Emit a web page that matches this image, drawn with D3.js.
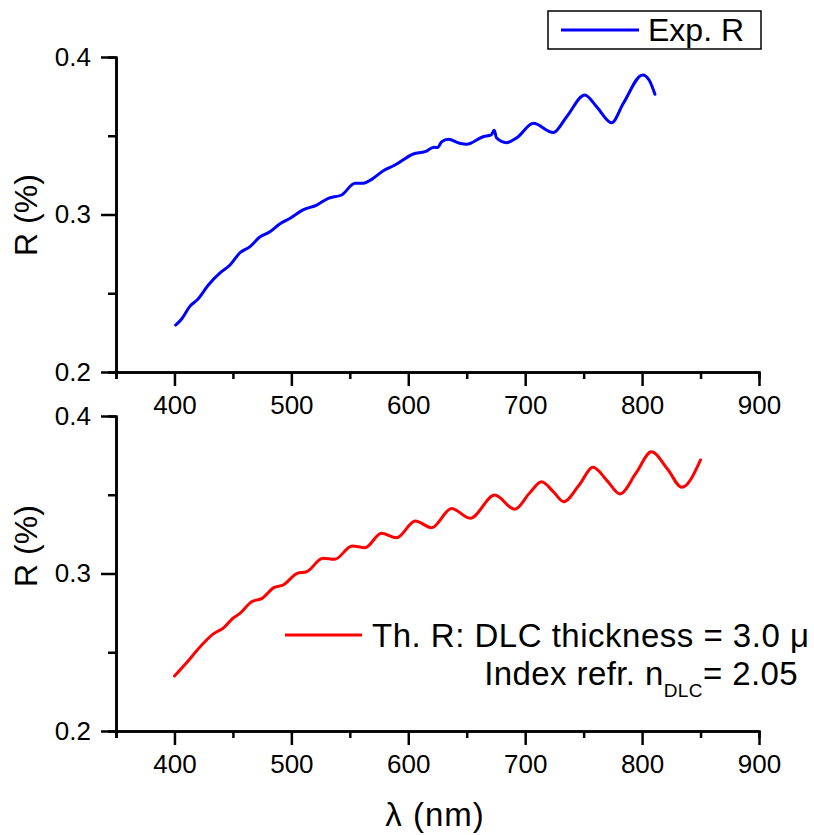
<!DOCTYPE html>
<html lang="en">
<head>
  <meta charset="UTF-8">
  <title>Exp. R vs Th. R</title>
  <script src="https://d3js.org/d3.v7.min.js"></script>
  <style>
    body {
      margin: 0;
      background: #fff;
    }
    svg {
      display: block;
      font-family: "Liberation Sans", Arial, sans-serif;
    }
  </style>
</head>
<body>

<script>
  // measured reflectance (top panel)
  const expLambda = [401, 406, 413, 420, 429, 439, 447.5, 456, 464.6, 473, 481.7, 490, 499, 510,
    521.7, 531.6, 543, 554.4, 561.6, 568.7, 578.7, 588.7, 604.3, 614.3, 622, 625, 628.6, 634.3,
    644, 650, 664, 671, 673.5, 675.5, 684, 693, 707, 724, 735.5, 751, 761, 774, 784, 800.5, 806, 811];
  const expR = [0.2298, 0.2335, 0.2415, 0.2462, 0.2552, 0.2629, 0.2679, 0.2757, 0.2796, 0.2857,
    0.2891, 0.2940, 0.2976, 0.3029, 0.3060, 0.3103, 0.3124, 0.3198, 0.3198, 0.3223, 0.3278,
    0.3314, 0.3384, 0.3399, 0.3427, 0.3425, 0.3462, 0.3477, 0.3452, 0.3446, 0.3494, 0.3505,
    0.3535, 0.3486, 0.3456, 0.3488, 0.3579, 0.3520, 0.3621, 0.3759, 0.3685, 0.3583, 0.3706,
    0.3886, 0.3854, 0.3763];

  // theoretical reflectance (bottom panel)
  const thLambda = [400, 410, 422, 433, 442, 450, 456, 466, 475, 485, 493, 505, 513, 527, 537,
    552, 563, 577, 590, 606, 620, 637, 653, 674, 691, 704, 714, 724, 733, 746, 758, 770, 781,
    795, 808, 822, 834, 850];
  const thR = [0.2349, 0.2430, 0.2535, 0.2615, 0.2655, 0.2716, 0.2747, 0.2821, 0.2842, 0.2910,
    0.2927, 0.3001, 0.3011, 0.3097, 0.3090, 0.3175, 0.3164, 0.3255, 0.3227, 0.3333, 0.3291,
    0.3413, 0.3351, 0.3498, 0.3408, 0.3513, 0.3582, 0.3520, 0.3456, 0.3560, 0.3674, 0.3590,
    0.3505, 0.3640, 0.3773, 0.3660, 0.3547, 0.3721];

  const xTicks = [400, 500, 600, 700, 800, 900];
  const xMinor = [350, 450, 550, 650, 750, 850];
  const yTicks = [0.2, 0.3, 0.4];
  const yMinor = [0.25, 0.35];

  const svg = d3.select("body").append("svg")
    .attr("width", 814)
    .attr("height", 835);

  const x = d3.scaleLinear().domain([350, 900]).range([116, 759]);
  const yTop = d3.scaleLinear().domain([0.2, 0.4]).range([372, 57]);
  const yBot = d3.scaleLinear().domain([0.2, 0.4]).range([731, 416]);

  // one panel: axes + curve
  function drawPanel(y, xs, ys, color) {
    const g = svg.append("g");

    // minor ticks first, labels off
    g.append("g")
      .attr("transform", "translate(0," + y(0.2) + ")")
      .call(d3.axisBottom(x).tickValues(xMinor).tickSize(7).tickFormat(""));
    g.append("g")
      .attr("transform", "translate(" + x(350) + ",0)")
      .call(d3.axisLeft(y).tickValues(yMinor).tickSize(8).tickFormat(""));

    g.append("g")
      .attr("transform", "translate(0," + y(0.2) + ")")
      .call(d3.axisBottom(x).tickValues(xTicks).tickSize(14).tickSizeOuter(0).tickPadding(10));
    g.append("g")
      .attr("transform", "translate(" + x(350) + ",0)")
      .call(d3.axisLeft(y).tickValues(yTicks).tickSize(15).tickSizeOuter(0).tickPadding(10)
        .tickFormat(d3.format(".1f")));

    g.selectAll(".domain").attr("stroke", "#000").attr("stroke-width", 2.5);
    g.selectAll(".tick line").attr("stroke", "#000").attr("stroke-width", 2.5);
    g.selectAll(".tick text")
      .attr("font-family", "'Liberation Sans', Arial, sans-serif")
      .attr("font-size", 26)
      .attr("fill", "#000");

    const line = d3.line()
      .x((d, i) => x(xs[i]))
      .y((d, i) => y(ys[i]))
      .curve(d3.curveMonotoneX);

    g.append("path")
      .attr("d", line(xs))
      .attr("fill", "none")
      .attr("stroke", color)
      .attr("stroke-width", 3)
      .attr("stroke-linejoin", "round")
      .attr("stroke-linecap", "round");
  }

  drawPanel(yTop, expLambda, expR, "#0000ff");
  drawPanel(yBot, thLambda, thR, "#ff0000");

  // axis titles
  svg.append("text")
    .attr("transform", "translate(37,215) rotate(-90)")
    .attr("text-anchor", "middle")
    .attr("font-size", 32)
    .text("R (%)");
  svg.append("text")
    .attr("transform", "translate(37,546) rotate(-90)")
    .attr("text-anchor", "middle")
    .attr("font-size", 32)
    .text("R (%)");
  svg.append("text")
    .attr("x", 435)
    .attr("y", 826)
    .attr("text-anchor", "middle")
    .attr("font-size", 33)
    .attr("letter-spacing", 1)
    .text("λ (nm)");

  // top legend
  svg.append("rect")
    .attr("x", 548).attr("y", 11)
    .attr("width", 213).attr("height", 38)
    .attr("fill", "#fff")
    .attr("stroke", "#000")
    .attr("stroke-width", 1.5);
  svg.append("line")
    .attr("x1", 561).attr("x2", 639)
    .attr("y1", 30).attr("y2", 30)
    .attr("stroke", "#0000ff")
    .attr("stroke-width", 3);
  svg.append("text")
    .attr("x", 648).attr("y", 41)
    .attr("font-size", 32)
    .text("Exp. R");

  // bottom legend
  svg.append("line")
    .attr("x1", 285).attr("x2", 362)
    .attr("y1", 635).attr("y2", 635)
    .attr("stroke", "#ff0000")
    .attr("stroke-width", 3);
  svg.append("text")
    .attr("x", 372).attr("y", 647)
    .attr("font-size", 33)
    .attr("letter-spacing", 0.5)
    .text("Th. R: DLC thickness = 3.0 μ");
  const l2 = svg.append("text")
    .attr("x", 798).attr("y", 685)
    .attr("text-anchor", "end")
    .attr("font-size", 33)
    .attr("letter-spacing", 0.4);
  l2.append("tspan").text("Index refr. n");
  l2.append("tspan").attr("font-size", 19).attr("dy", 12).text("DLC");
  l2.append("tspan").attr("dy", -12).text("= 2.05");
</script>

</body>
</html>
